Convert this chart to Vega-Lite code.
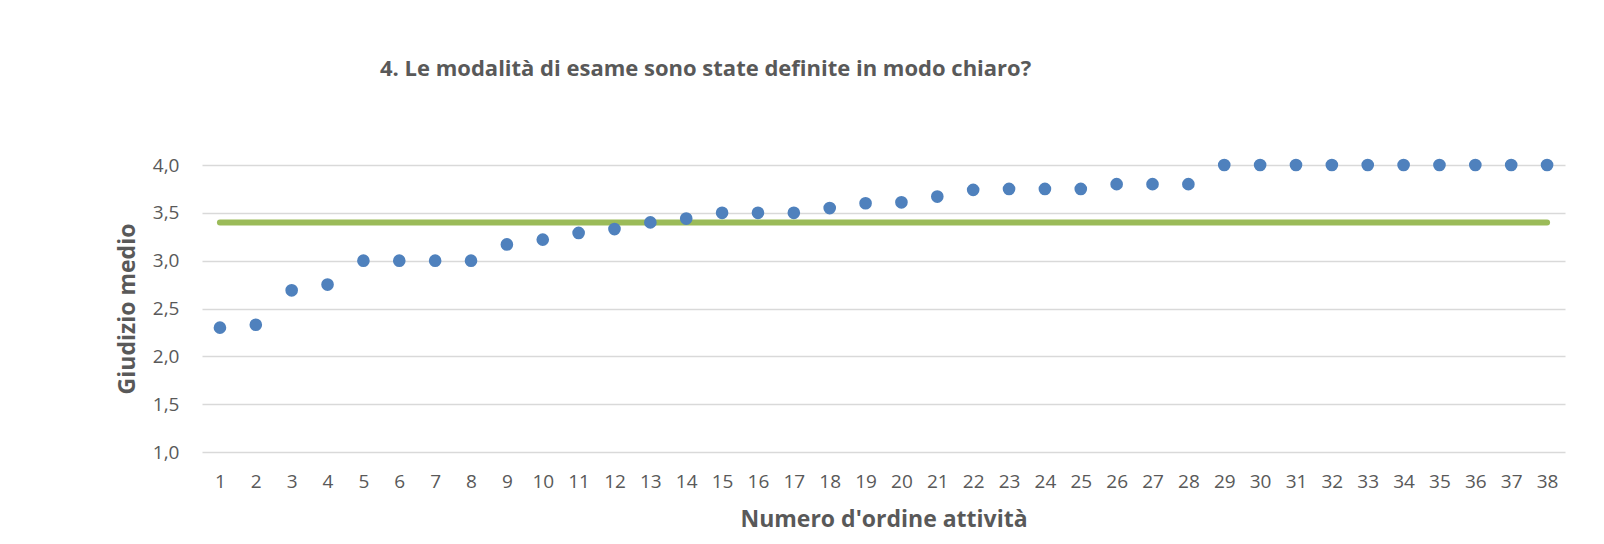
{
  "$schema": "https://vega.github.io/schema/vega-lite/v6.json",
  "width": 1363,
  "height": 287,
  "autosize": {"type": "none"},
  "padding": {"left": 202, "top": 165, "right": 39, "bottom": 92},
  "background": "white",
  "title": {
    "text": "4. Le modalità di esame sono state definite in modo chiaro?",
    "anchor": "start",
    "frame": "group",
    "dx": 178,
    "offset": 75,
    "font": "Open Sans",
    "fontSize": 22,
    "fontWeight": "bold",
    "color": "#595959"
  },
  "config": {
    "view": {"stroke": null},
    "font": "Open Sans"
  },
  "data": {
    "values": [
      {"attivita": 1, "giudizio": 2.30, "media": 3.4},
      {"attivita": 2, "giudizio": 2.33, "media": 3.4},
      {"attivita": 3, "giudizio": 2.69, "media": 3.4},
      {"attivita": 4, "giudizio": 2.75, "media": 3.4},
      {"attivita": 5, "giudizio": 3.00, "media": 3.4},
      {"attivita": 6, "giudizio": 3.00, "media": 3.4},
      {"attivita": 7, "giudizio": 3.00, "media": 3.4},
      {"attivita": 8, "giudizio": 3.00, "media": 3.4},
      {"attivita": 9, "giudizio": 3.17, "media": 3.4},
      {"attivita": 10, "giudizio": 3.22, "media": 3.4},
      {"attivita": 11, "giudizio": 3.29, "media": 3.4},
      {"attivita": 12, "giudizio": 3.33, "media": 3.4},
      {"attivita": 13, "giudizio": 3.40, "media": 3.4},
      {"attivita": 14, "giudizio": 3.44, "media": 3.4},
      {"attivita": 15, "giudizio": 3.50, "media": 3.4},
      {"attivita": 16, "giudizio": 3.50, "media": 3.4},
      {"attivita": 17, "giudizio": 3.50, "media": 3.4},
      {"attivita": 18, "giudizio": 3.55, "media": 3.4},
      {"attivita": 19, "giudizio": 3.60, "media": 3.4},
      {"attivita": 20, "giudizio": 3.61, "media": 3.4},
      {"attivita": 21, "giudizio": 3.67, "media": 3.4},
      {"attivita": 22, "giudizio": 3.74, "media": 3.4},
      {"attivita": 23, "giudizio": 3.75, "media": 3.4},
      {"attivita": 24, "giudizio": 3.75, "media": 3.4},
      {"attivita": 25, "giudizio": 3.75, "media": 3.4},
      {"attivita": 26, "giudizio": 3.80, "media": 3.4},
      {"attivita": 27, "giudizio": 3.80, "media": 3.4},
      {"attivita": 28, "giudizio": 3.80, "media": 3.4},
      {"attivita": 29, "giudizio": 4.00, "media": 3.4},
      {"attivita": 30, "giudizio": 4.00, "media": 3.4},
      {"attivita": 31, "giudizio": 4.00, "media": 3.4},
      {"attivita": 32, "giudizio": 4.00, "media": 3.4},
      {"attivita": 33, "giudizio": 4.00, "media": 3.4},
      {"attivita": 34, "giudizio": 4.00, "media": 3.4},
      {"attivita": 35, "giudizio": 4.00, "media": 3.4},
      {"attivita": 36, "giudizio": 4.00, "media": 3.4},
      {"attivita": 37, "giudizio": 4.00, "media": 3.4},
      {"attivita": 38, "giudizio": 4.00, "media": 3.4}
    ]
  },
  "encoding": {
    "x": {
      "field": "attivita",
      "type": "quantitative",
      "scale": {"domain": [0.5, 38.5], "nice": false, "zero": false},
      "axis": {
        "title": "Numero d'ordine attività",
        "values": [1,2,3,4,5,6,7,8,9,10,11,12,13,14,15,16,17,18,19,20,21,22,23,24,25,26,27,28,29,30,31,32,33,34,35,36,37,38],
        "format": "d",
        "grid": false,
        "domain": false,
        "ticks": false,
        "labelPadding": 20,
        "labelFontSize": 19,
        "labelColor": "#595959",
        "labelFont": "Open Sans",
        "labelOverlap": false,
        "titleFontSize": 23,
        "titleFont": "Open Sans",
        "titleFontWeight": "bold",
        "titleColor": "#595959",
        "titlePadding": 17
      }
    }
  },
  "layer": [
    {
      "mark": {"type": "line", "color": "#9BBB59", "strokeWidth": 6, "strokeCap": "round"},
      "encoding": {
        "y": {
          "field": "media",
          "type": "quantitative",
          "scale": {"domain": [1, 4], "nice": false, "zero": false},
          "axis": {
            "title": "Giudizio medio",
            "values": [1, 1.5, 2, 2.5, 3, 3.5, 4],
            "format": ".1f",
            "labelExpr": "replace(datum.label, '.', ',')",
            "grid": true,
            "gridColor": "#D9D9D9",
            "gridWidth": 1.5,
            "domain": false,
            "ticks": false,
            "labelPadding": 23,
            "labelFontSize": 19,
            "labelColor": "#595959",
            "labelFont": "Open Sans",
            "titleFontSize": 23,
            "titleFont": "Open Sans",
            "titleFontWeight": "bold",
            "titleColor": "#595959",
            "titlePadding": 13
          }
        }
      }
    },
    {
      "mark": {"type": "point", "filled": true, "shape": "circle", "size": 160, "color": "#4F81BD", "opacity": 1},
      "encoding": {
        "y": {"field": "giudizio", "type": "quantitative"}
      }
    }
  ]
}
